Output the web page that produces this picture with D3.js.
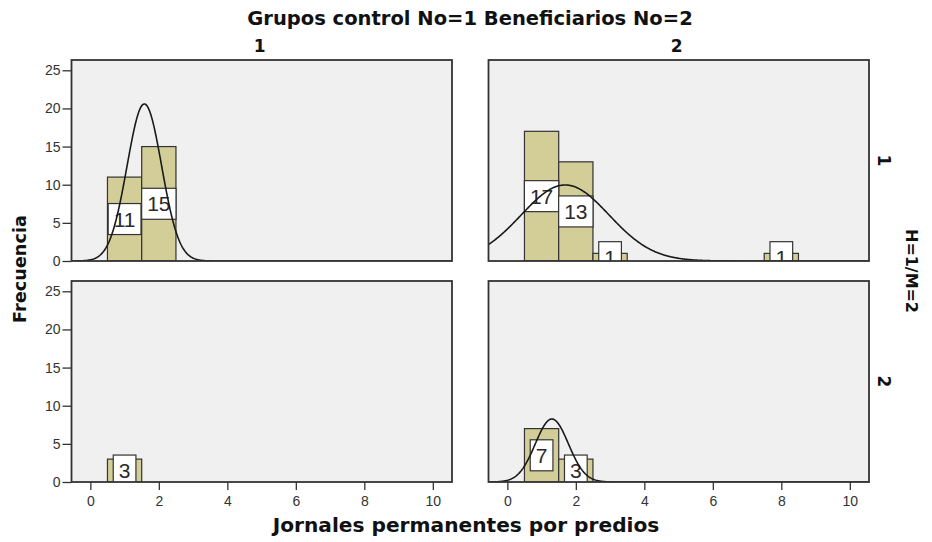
<!DOCTYPE html>
<html><head><meta charset="utf-8">
<script src="https://cdn.jsdelivr.net/npm/d3@7"></script>
<style>body{margin:0;background:#fff}svg{display:block}</style>
</head><body>
<script>
// ---- data ----
const title = "Grupos control No=1 Beneficiarios No=2";
const colLabels = ["1", "2"];
const rowLabels = ["1", "2"];
const rowTitle = "H=1/M=2";
const xTitle = "Jornales permanentes por predios";
const yTitle = "Frecuencia";
const xTicks = [0, 2, 4, 6, 8, 10];
const yTicks = [0, 5, 10, 15, 20, 25];
// bins (value) and frequencies per panel  [row][col]
const bins_r1c1 = [1, 2];        const freq_r1c1 = [11, 15];
const bins_r1c2 = [1, 2, 3, 8];  const freq_r1c2 = [17, 13, 1, 1];
const bins_r2c1 = [1];           const freq_r2c1 = [3];
const bins_r2c2 = [1, 2];        const freq_r2c2 = [7, 3];

const panels = [
  {r:0, c:0, bins:bins_r1c1, freq:freq_r1c1},
  {r:0, c:1, bins:bins_r1c2, freq:freq_r1c2},
  {r:1, c:0, bins:bins_r2c1, freq:freq_r2c1},
  {r:1, c:1, bins:bins_r2c2, freq:freq_r2c2}
];

// ---- layout ----
const W = 932, H = 542;
const colX = [71.5, 488.5], colW = 380.5;
const rowY = [60, 281], rowH = 201;
const xDomain = [-0.55, 10.56];
const yDomain = [0, 26.35];
const barFill = "#d3ce97", dark = "#333";

const svg = d3.select("body").append("svg").attr("width", W).attr("height", H)
  .style("font-family", "'Liberation Sans', Arial, sans-serif");

function fit(sel, target) {
  const w = sel.node().getComputedTextLength();
  const fs = parseFloat(sel.attr("font-size"));
  sel.attr("font-size", fs * target / w);
}

const defs = svg.append("defs");

panels.forEach((p, i) => {
  const x0 = colX[p.c], y0 = rowY[p.r];
  const x = d3.scaleLinear().domain(xDomain).range([x0, x0 + colW]);
  const y = d3.scaleLinear().domain(yDomain).range([y0 + rowH, y0]);
  const g = svg.append("g");
  defs.append("clipPath").attr("id", "clip" + i).append("rect")
    .attr("x", x0).attr("y", y0).attr("width", colW).attr("height", rowH);

  g.append("rect").attr("x", x0).attr("y", y0).attr("width", colW).attr("height", rowH)
    .attr("fill", "#f0f0f0");

  const inner = g.append("g").attr("clip-path", "url(#clip" + i + ")");
  const data = p.bins.map((b, k) => ({b, f: p.freq[k]}));

  inner.selectAll("rect.bar").data(data).enter().append("rect").attr("class", "bar")
    .attr("x", d => x(d.b - 0.5)).attr("width", d => x(d.b + 0.5) - x(d.b - 0.5))
    .attr("y", d => y(d.f)).attr("height", d => y(0) - y(d.f))
    .attr("fill", barFill).attr("stroke", dark).attr("stroke-width", 1.2);

  // labels
  data.forEach(d => {
    const lg = inner.append("g");
    const t = lg.append("text").attr("x", x(d.b)).attr("y", y(d.f / 2))
      .attr("text-anchor", "middle").attr("dominant-baseline", "central")
      .attr("font-size", 21).attr("fill", "#2a2a2a").text(d.f);
    const tw = t.node().getComputedTextLength();
    const bw = tw + 11, bh = 31;
    lg.insert("rect", "text").attr("x", x(d.b) - bw / 2).attr("y", y(d.f / 2) - bh / 2)
      .attr("width", bw).attr("height", bh).attr("fill", "#fff")
      .attr("stroke", dark).attr("stroke-width", 1.2);
  });

  // normal curve
  const n = d3.sum(p.freq);
  const mean = d3.sum(data, d => d.b * d.f) / n;
  const ss = d3.sum(data, d => d.f * (d.b - mean) ** 2);
  const sd = n > 1 ? Math.sqrt(ss / (n - 1)) : 0;
  if (sd > 0) {
    const pts = d3.range(xDomain[0], xDomain[1] + 0.01, 0.02).map(v =>
      [v, n * Math.exp(-0.5 * ((v - mean) / sd) ** 2) / (sd * Math.sqrt(2 * Math.PI))]);
    inner.append("path").datum(pts)
      .attr("d", d3.line().x(d => x(d[0])).y(d => y(d[1])))
      .attr("fill", "none").attr("stroke", "#1a1a1a").attr("stroke-width", 1.6);
  }

  g.append("rect").attr("x", x0).attr("y", y0).attr("width", colW).attr("height", rowH)
    .attr("fill", "none").attr("stroke", dark).attr("stroke-width", 1.8);

  // y axis on left column
  if (p.c === 0) {
    const ax = svg.append("g").attr("transform", `translate(${x0},0)`)
      .call(d3.axisLeft(y).tickValues(yTicks).tickSize(9).tickPadding(2));
    ax.select(".domain").remove();
    ax.selectAll("line").attr("stroke", dark).attr("stroke-width", 1.3);
    ax.selectAll("text").attr("font-size", 14).attr("fill", "#333")
      .style("font-family", "'Liberation Sans', Arial, sans-serif");
  }
  // x axis on bottom row
  if (p.r === 1) {
    const ax = svg.append("g").attr("transform", `translate(0,${y0 + rowH})`)
      .call(d3.axisBottom(x).tickValues(xTicks).tickSize(8).tickPadding(6));
    ax.select(".domain").remove();
    ax.selectAll("line").attr("stroke", dark).attr("stroke-width", 1.3);
    ax.selectAll("text").attr("font-size", 14).attr("fill", "#333")
      .style("font-family", "'Liberation Sans', Arial, sans-serif");
  }
});

const bold = "'DejaVu Sans', Verdana, sans-serif";
// title
const tt = svg.append("text").attr("x", 470).attr("y", 25).attr("text-anchor", "middle")
  .attr("font-family", bold).attr("font-weight", "bold").attr("font-size", 16)
  .attr("fill", "#111").text(title);
fit(tt, 446);

// column labels
colLabels.forEach((l, c) => {
  svg.append("text").attr("x", colX[c] + colW / 2 - 2).attr("y", 52).attr("text-anchor", "middle")
    .attr("font-family", bold).attr("font-weight", "bold").attr("font-size", 17)
    .attr("fill", "#111").text(l);
});
// row labels
rowLabels.forEach((l, r) => {
  svg.append("text").attr("transform", `translate(878,${rowY[r] + rowH / 2}) rotate(90)`)
    .attr("text-anchor", "middle")
    .attr("font-family", bold).attr("font-weight", "bold").attr("font-size", 17)
    .attr("fill", "#111").text(l);
});
const rt = svg.append("text").attr("transform", `translate(906,271) rotate(90)`)
  .attr("text-anchor", "middle")
  .attr("font-family", bold).attr("font-weight", "bold").attr("font-size", 16)
  .attr("fill", "#111").text(rowTitle);
fit(rt, 84);

const yt = svg.append("text").attr("transform", `translate(26,269) rotate(-90)`)
  .attr("text-anchor", "middle")
  .attr("font-family", bold).attr("font-weight", "bold").attr("font-size", 16)
  .attr("fill", "#111").text(yTitle);
fit(yt, 108);

const xt = svg.append("text").attr("x", 466).attr("y", 532).attr("text-anchor", "middle")
  .attr("font-family", bold).attr("font-weight", "bold").attr("font-size", 16)
  .attr("fill", "#111").text(xTitle);
fit(xt, 387);
</script>
</body></html>
